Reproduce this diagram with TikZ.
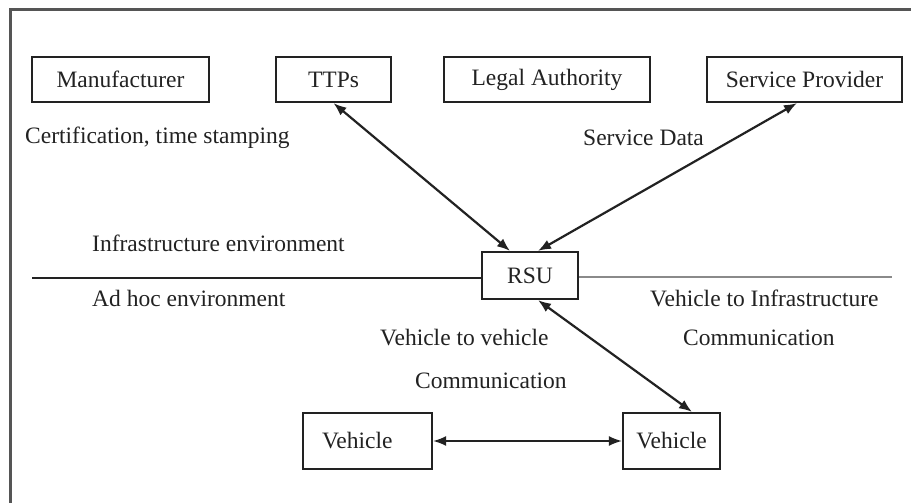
\documentclass[tikz,border=0pt]{standalone}
\usepackage{fontspec}
\setmainfont{Liberation Serif}
\usetikzlibrary{arrows.meta}
\definecolor{ink}{HTML}{222222}
\definecolor{framegray}{HTML}{555555}
\definecolor{linegray}{HTML}{8A8A8A}
\begin{document}
\begin{tikzpicture}[x=1pt,y=-1pt,
  font=\fontsize{23.5}{28}\selectfont, text=ink,
  box/.style={draw=ink, line width=2.2pt, inner sep=0pt, minimum height=45pt},
  lbl/.style={inner sep=0pt, anchor=west},
  link/.style={draw=ink, line width=2.2pt, {Latex[length=13pt,width=10pt]}-{Latex[length=13pt,width=10pt]}}]
\useasboundingbox (0,0) rectangle (911,503);
\fill[white] (0,0) rectangle (911,503);

% partial outer frame
\draw[framegray, line width=3pt] (10,503) -- (10,10) -- (911,10);

% top row of entities
\node[box, minimum width=177pt] (man) at (120.5,79.5) {Manufacturer};
\node[box, minimum width=115pt] (ttp) at (333.5,79.5) {TTPs};
\node[box, minimum width=206pt] (legal) at (547,79.5) {Legal Authority};
\node[box, minimum width=195pt] (sp) at (804.5,79.5) {Service Provider};

% road side unit on the boundary line
\node[box, minimum width=96pt, minimum height=47pt] (rsu) at (530,275.5) {RSU};

% vehicles
\node[box, minimum height=56pt, inner xsep=19pt, text width=91pt, align=left] (vl) at (367.5,441) {Vehicle};
\node[box, minimum width=97pt, minimum height=56pt] (vr) at (671.5,441) {Vehicle};

% environment boundary
\coordinate (envL) at (32,278);
\coordinate (envR) at (892,277);
\draw[ink, line width=2.2pt] (envL) -- (envL -| rsu.west);
\draw[linegray, line width=1.6pt] (envR -| rsu.east) -- (envR);

% labels
\node[lbl] (cert) at (25,138) {Certification, time stamping};
\node[lbl] (sdata) at (583,138) {Service Data};
\node[lbl] (infra) at (92,243) {Infrastructure environment};
\node[lbl] (adhoc) at (92,298) {Ad hoc environment};
\node[lbl] (v2i) at (650,298) {Vehicle to Infrastructure};
\node[lbl] (v2ic) at (683,338) {Communication};
\node[lbl] (v2v) at (380,338) {Vehicle to vehicle};
\node[lbl] (v2vc) at (415,381) {Communication};

% communication links
\draw[link] (ttp.south) -- ([xshift=-20pt]rsu.north);
\draw[link] ([xshift=-7.5pt]sp.south) -- ([xshift=8pt]rsu.north);
\draw[link] ([xshift=8pt]rsu.south) -- ([xshift=20.5pt]vr.north);
\draw[link, line width=1.8pt] (vl.east) -- (vr.west);
\end{tikzpicture}
\end{document}
